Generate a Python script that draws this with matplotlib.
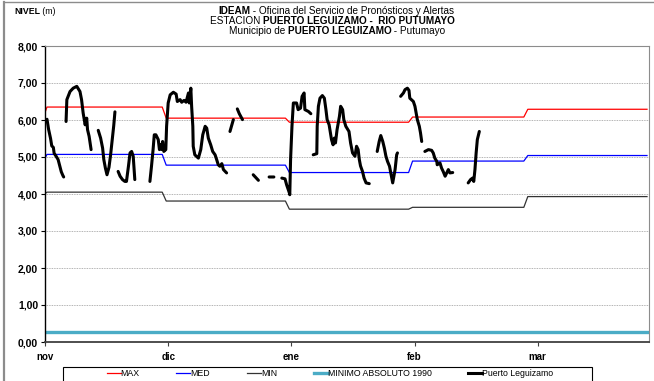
import numpy as np
import matplotlib
matplotlib.use("Agg")
import matplotlib.pyplot as plt
from matplotlib.patches import Rectangle
from matplotlib.lines import Line2D

plt.rcParams["font.family"] = ["Liberation Sans", "DejaVu Sans"]

W, H = 654, 381
nan = np.nan

# monthly reference levels (m); the single October day only feeds the first ramp
days_in_month = [1, 30, 31, 31, 29, 31]
level_max = [6.05, 6.35, 6.05, 5.94, 6.08, 6.29]
level_med = [4.87, 5.07, 4.78, 4.58, 4.89, 5.04]
level_min = [3.97, 4.05, 3.81, 3.59, 3.64, 3.93]
min_abs_1990 = 0.27

month_labels = ["nov", "dic", "ene", "feb", "mar"]
month_ticks = [-0.5, 30.5, 61.5, 92.5, 123.5]

# observed stage at Puerto Leguizamo, days since 1 Nov (nan = no reading)
obs_day = [
    0.0, 0.4, 0.9, 1.2, 1.6, 1.8, 2.3, 2.8, 3.2, 3.6, 4.0, 4.2, nan,
    4.8, 5.0, 5.8, 6.6, 7.5, 8.3, 8.7, 9.1, 9.6, 10.0, 10.2, 10.6, 11.1, nan,
    12.9, 13.5, 14.0, 14.3, 14.7, 15.1, 15.6, 16.0, 16.4, 16.8, 17.1, nan,
    17.9, 18.4, 19.0, 19.6, 20.0, 20.5, 20.9, 21.3, 21.7, 22.1, nan,
    25.9, 26.3, 26.7, 27.0, 27.4, 28.0, 28.3, 28.6, 28.9, 29.1, 29.4, 29.9,
    30.1, 30.5, 31.0, 31.8, 32.5, 32.8, 33.5, 33.9, 34.5, 35.0, 35.6, 35.8,
    36.2, 36.4, 36.7, 36.8, 37.2, 38.1, 38.7, 39.2, 39.8, 40.2, 40.6, 41.2,
    41.7, 42.3, 42.7, 43.1, 43.5, 44.0, 44.4, 45.2, nan,
    46.05, 46.9, nan,
    47.9, 48.4, 49.2, nan,
    51.9, 53.2, nan,
    55.9, 57.1, nan,
    59.1, 59.9, 60.3, 61.0, 61.1, 61.3, 61.65, 62.0, 62.8, 63.2, 63.8, 64.2,
    64.7, 64.9, 65.8, 66.4, nan,
    67.0, 67.9, 68.0, 68.3, 68.7, 69.3, 69.8, 70.2, 70.5, 71.0, 71.4, 71.6,
    72.0, 72.3, 72.6, 73.0, 73.6, 73.9, 74.4, 74.7, 75.2, 75.7, 76.0, 76.4,
    76.9, 77.5, 77.9, 78.3, 78.6, 78.9, 79.4, 79.8, 80.3, 81.1, nan,
    83.1, 83.6, 84.0, 84.5, 84.9, 85.3, 85.7, 86.2, 86.6, 87.0, 87.6, 88.0, 88.2, nan,
    89.0, 89.7, 90.1, 90.7, 91.1, 91.3, 92.2, 92.6, 92.9, 93.2, 93.7, 94.0, 94.3, nan,
    95.1, 96.0, 96.8, 97.2, 97.6, 98.1, 98.2, 98.9, 99.3, 99.7, 100.2, 100.6,
    101.0, 101.4, 102.1, nan,
    106.0, 106.6, 107.1, 107.4, 107.7, 108.0, 108.3, 108.8,
]
obs_level = [
    6.02, 5.75, 5.50, 5.30, 5.26, 5.10, 5.02, 4.93, 4.76, 4.60, 4.50, 4.46, nan,
    5.96, 6.55, 6.77, 6.86, 6.91, 6.77, 6.55, 6.19, 5.87, 6.05, 5.74, 5.56, 5.20, nan,
    5.72, 5.51, 5.24, 4.93, 4.70, 4.52, 4.72, 5.05, 5.45, 5.85, 6.22, nan,
    4.61, 4.48, 4.39, 4.34, 4.34, 4.75, 5.11, 5.15, 5.02, 4.39, nan,
    4.34, 4.75, 5.20, 5.60, 5.60, 5.47, 5.20, 5.33, 5.20, 5.42, 5.15, 5.20,
    5.83, 6.46, 6.68, 6.75, 6.70, 6.50, 6.55, 6.48, 6.53, 6.48, 6.73, 6.46,
    6.86, 6.37, 5.83, 5.29, 5.06, 4.97, 5.20, 5.60, 5.83, 5.78, 5.51, 5.33,
    5.15, 5.06, 4.93, 4.79, 4.75, 4.82, 4.66, 4.57, nan,
    5.69, 6.01, nan,
    6.30, 6.17, 6.01, nan,
    4.52, 4.37, nan,
    4.46, 4.46, nan,
    4.43, 4.41, 4.25, 4.03, 3.98, 4.93, 5.83, 6.46, 6.46, 6.28, 6.32, 6.64,
    6.73, 6.28, 6.23, 6.17, nan,
    5.06, 5.09, 5.83, 6.37, 6.59, 6.66, 6.59, 6.28, 6.01, 5.87, 5.60, 5.47,
    5.33, 5.51, 5.38, 5.74, 6.10, 6.37, 6.28, 6.01, 5.83, 5.74, 5.69, 5.38,
    5.11, 5.02, 5.29, 5.20, 4.93, 4.76, 4.61, 4.43, 4.30, 4.28, nan,
    5.15, 5.42, 5.58, 5.42, 5.24, 5.02, 4.88, 4.75, 4.52, 4.30, 4.66, 5.06, 5.11, nan,
    6.64, 6.73, 6.82, 6.86, 6.80, 6.59, 6.50, 6.37, 6.19, 6.01, 5.83, 5.65, 5.42, nan,
    5.15, 5.20, 5.18, 5.11, 4.97, 4.88, 4.79, 4.84, 4.70, 4.61, 4.48, 4.57,
    4.66, 4.57, 4.58, nan,
    4.30, 4.39, 4.43, 4.34, 4.66, 5.11, 5.47, 5.69,
]


def px(x, y):
    """pixel position (from top-left) -> figure fraction"""
    return x / W, 1 - y / H


def rich_text(fig, x, y, runs, size, ha="center"):
    """draw consecutive text runs with their own weights on one line"""
    renderer = fig.canvas.get_renderer()
    items = [fig.text(0, 0, s, fontsize=size, fontweight=w, va="center", ha="left")
             for s, w in runs]
    widths = [t.get_window_extent(renderer).width for t in items]
    start = x - sum(widths) / 2 if ha == "center" else x
    for t, wd in zip(items, widths):
        t.set_position(px(start, y))
        start += wd


fig = plt.figure(figsize=(W / 100, H / 100), dpi=100)
ax = fig.add_axes([45 / W, 1 - 342 / H, (649 - 45) / W, (342 - 46) / H])

stat_day = np.arange(-1, sum(days_in_month) - 1)
ax.plot(stat_day, np.repeat(level_max, days_in_month), color="#ff0000", lw=0.9)
ax.plot(stat_day, np.repeat(level_med, days_in_month), color="#0000ff", lw=0.9)
ax.plot(stat_day, np.repeat(level_min, days_in_month), color="#333333", lw=0.9)
ax.axhline(min_abs_1990, color="#4bacc6", lw=2.4)
ax.plot(obs_day, obs_level, color="black", lw=2.2, solid_joinstyle="round",
        solid_capstyle="round")

ax.set_xlim(-0.5, 151.5)
ax.set_ylim(0, 8)
ax.set_yticks(np.arange(0, 9, 1))
ax.set_yticklabels([f"{v:.2f}".replace(".", ",") for v in range(9)],
                   fontsize=7.5, fontweight="bold")
ax.set_xticks(month_ticks)
ax.set_xticklabels(month_labels, fontsize=7, fontweight="bold")
ax.tick_params(axis="y", length=3, width=0.8, pad=2)
ax.tick_params(axis="x", length=3, width=0.8, pad=4, color="#404040")
ax.grid(axis="y", color="#9a9a9a", lw=0.6, ls=(0, (1, 1)))
ax.set_axisbelow(True)

ax.spines["left"].set_color("black")
ax.spines["left"].set_linewidth(1.0)
ax.spines["bottom"].set_color("#404040")
ax.spines["bottom"].set_linewidth(1.3)
for side in ("top", "right"):
    ax.spines[side].set_color("#8c8c8c")
    ax.spines[side].set_linewidth(0.8)

# frame of the chart area
fig.add_artist(Line2D([4 / W, 4 / W], [0, 1 - 2 / H], color="#8c8c8c", lw=1.6))
fig.add_artist(Line2D([4 / W, 1], [1 - 2 / H, 1 - 2 / H], color="#8c8c8c", lw=1.0))

# titles
rich_text(fig, 336, 11, [("IDEAM", "bold"),
                         (" - Oficina del Servicio de Pronósticos y Alertas", "normal")], 7.2)
rich_text(fig, 332, 21, [("ESTACION ", "normal"),
                         ("PUERTO LEGUIZAMO -  RIO PUTUMAYO", "bold")], 7.2)
rich_text(fig, 337, 31, [("Municipio de ", "normal"), ("PUERTO LEGUIZAMO", "bold"),
                         (" - Putumayo", "normal")], 7.2)
rich_text(fig, 14, 12, [("NIVEL", "bold"), (" (m)", "normal")], 6.3, ha="left")

# legend strip along the bottom
fig.add_artist(Rectangle(px(63, 392), (592 - 63) / W, (392 - 367) / H,
                         transform=fig.transFigure, fill=False,
                         edgecolor="black", lw=0.8))
handles = [
    Line2D([], [], color="#ff0000", lw=0.9),
    Line2D([], [], color="#0000ff", lw=0.9),
    Line2D([], [], color="#333333", lw=0.9),
    Line2D([], [], color="#4bacc6", lw=2.4),
    Line2D([], [], color="black", lw=2.2),
]
labels = ["MAX", "MED", "MIN", "MINIMO ABSOLUTO 1990", "Puerto Leguizamo"]
fig.legend(handles, labels, loc="center", bbox_to_anchor=px(330, 374),
           ncol=5, frameon=False, fontsize=6.3, handlelength=1.6,
           handletextpad=0.0, columnspacing=4.2, borderpad=0)

fig.savefig("out.png", dpi=100)
